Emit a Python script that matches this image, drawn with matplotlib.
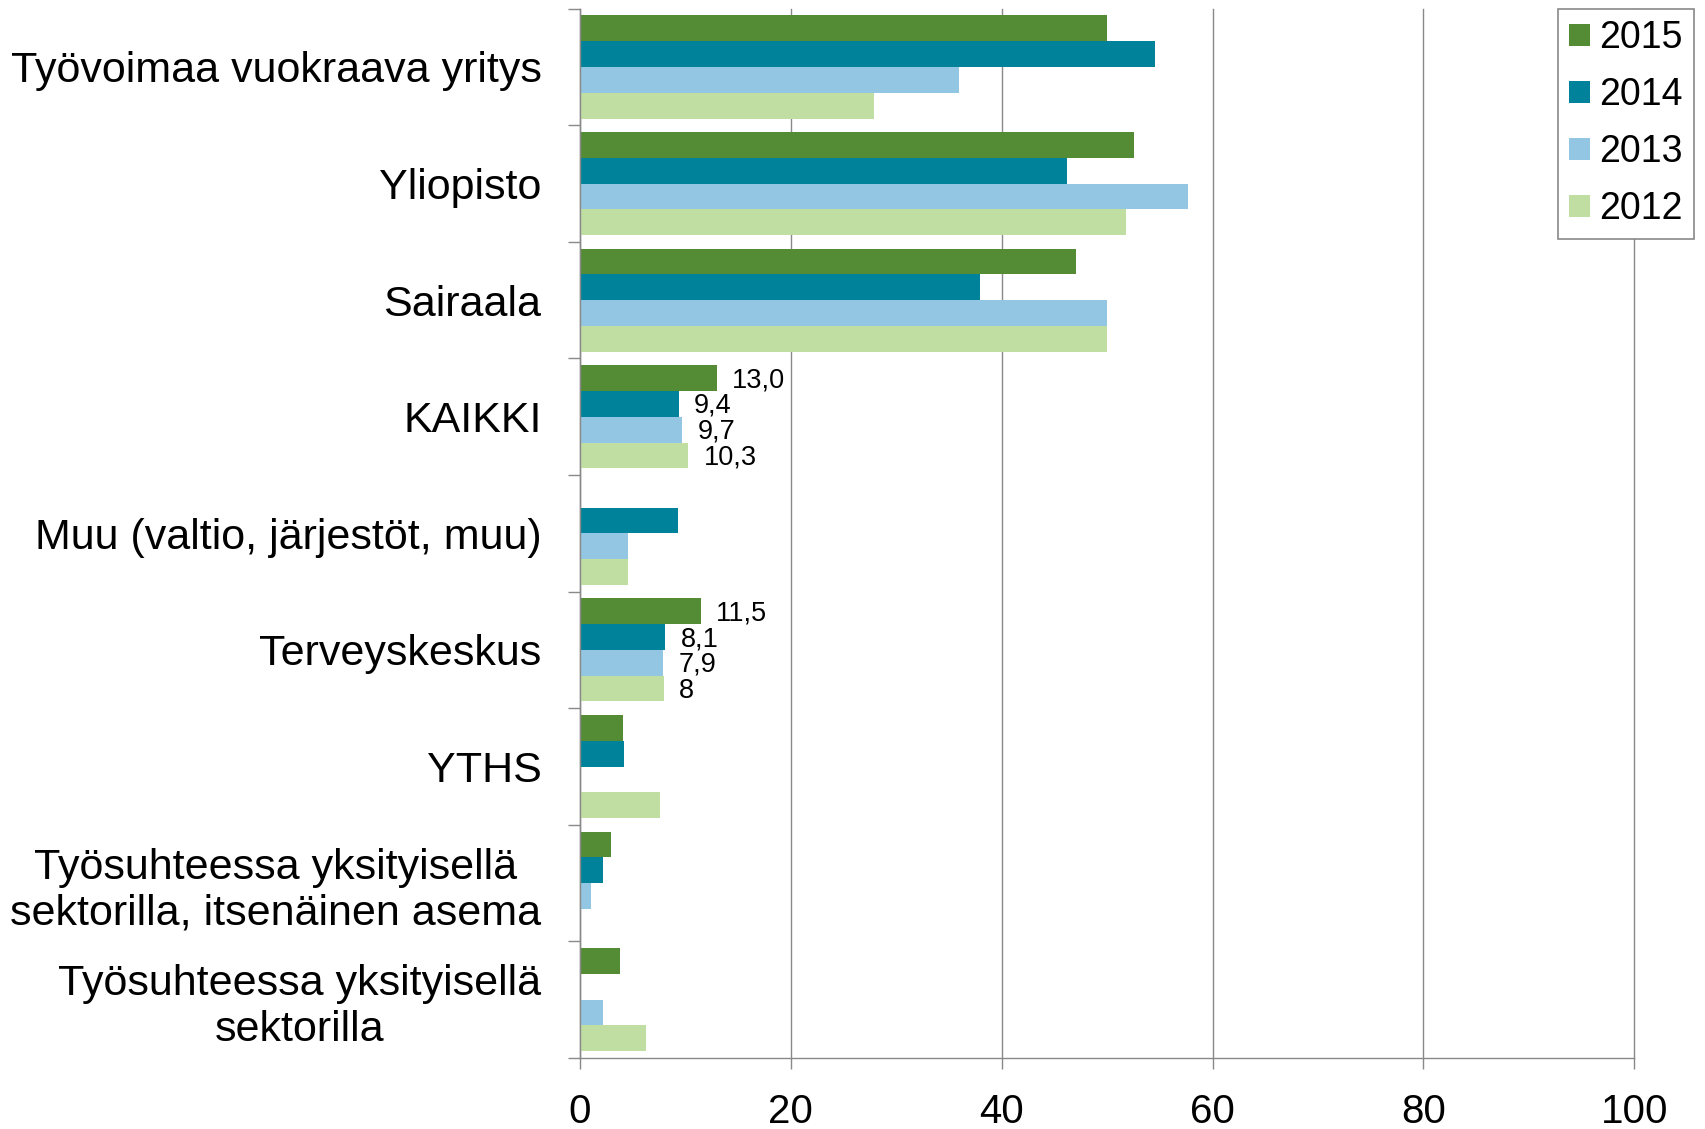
import numpy as np
from matplotlib import pyplot as plt

plt.rcParams['font.family'] = ['Liberation Sans', 'DejaVu Sans']

categories = ['Työvoimaa vuokraava yritys', 'Yliopisto', 'Sairaala', 'KAIKKI',
              'Muu (valtio, järjestöt, muu)', 'Terveyskeskus', 'YTHS',
              'Työsuhteessa yksityisellä\nsektorilla, itsenäinen asema',
              'Työsuhteessa yksityisellä\nsektorilla']
years = ['2015', '2014', '2013', '2012']
v2015 = [50.0, 52.6, 47.1, 13.0, 0.0, 11.5, 4.1, 3.0, 3.8]
v2014 = [54.5, 46.2, 38.0, 9.4, 9.3, 8.1, 4.2, 2.2, 0.0]
v2013 = [36.0, 57.7, 50.0, 9.7, 4.6, 7.9, 0.0, 1.1, 2.2]
v2012 = [27.9, 51.8, 50.0, 10.3, 4.6, 8.0, 7.6, 0.0, 6.3]
# value labels only shown for two groups
value_labels = {3: ['13,0', '9,4', '9,7', '10,3'],
                5: ['11,5', '8,1', '7,9', '8']}
colors = ['#548B35', '#00829A', '#93C6E2', '#C1DEA2']

series = [v2015, v2014, v2013, v2012]
n = len(categories)
pos = np.arange(n)
h = 0.221

fig = plt.figure(figsize=(17.05, 11.29), dpi=100)
ax = fig.add_axes([0.34, 0.0629, 0.6186, 0.9294])

bars = []
for j, vals in enumerate(series):
    b = ax.barh(pos + (j - 1.5) * h, vals, height=h, color=colors[j],
                label=years[j], zorder=3)
    bars.append(b)

for i, labs in value_labels.items():
    for j, txt in enumerate(labs):
        ax.annotate(txt, (series[j][i], pos[i] + (j - 1.5) * h),
                    xytext=(11, -1.5), textcoords='offset points',
                    ha='left', va='center', fontsize=19.5, zorder=4)

ax.set_xlim(0, 100)
ax.set_ylim(n - 0.5, -0.5)
ax.set_xticks(np.arange(0, 101, 20))
ax.tick_params(axis='x', labelsize=29, length=8, width=1.0, color='#898989',
               pad=17, direction='out')

# boundaries get tick marks, centers get the labels
ax.set_yticks(np.arange(-0.5, n, 1.0))
ax.set_yticklabels([])
ax.set_yticks(pos, minor=True)
ax.set_yticklabels(categories, minor=True)
ax.tick_params(axis='y', which='major', length=9, width=1.0, color='#898989')
ax.tick_params(axis='y', which='minor', length=0, pad=27.5, labelsize=31)
for lab in ax.get_yticklabels(minor=True):
    lab.set_multialignment('center')

ax.grid(axis='x', color='#898989', linewidth=1.0, zorder=0)
for line in ax.get_xgridlines():
    line.set_clip_on(False)
for s in ['top', 'right']:
    ax.spines[s].set_visible(False)
for s in ['left', 'bottom']:
    ax.spines[s].set_color('#898989')
    ax.spines[s].set_linewidth(1.0)
    ax.spines[s].set_zorder(5)

leg = fig.legend(handles=bars, labels=years, loc='upper right',
                 bbox_to_anchor=(0.9935, 0.992), fontsize=27,
                 handlelength=0.55, handleheight=0.55, handletextpad=0.25,
                 labelspacing=0.56, borderpad=0.3, borderaxespad=0,
                 fancybox=False, framealpha=1)
leg.get_frame().set_edgecolor('#898989')
leg.get_frame().set_linewidth(1.2)

plt.savefig('out.png')
